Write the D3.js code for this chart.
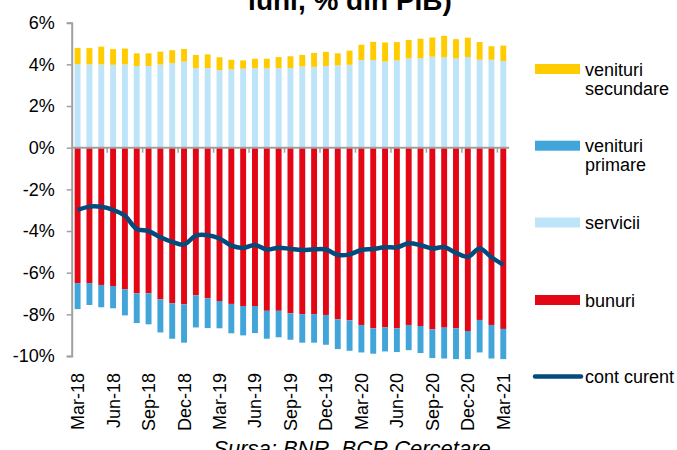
<!DOCTYPE html>
<html>
<head>
<meta charset="utf-8">
<script src="https://cdn.jsdelivr.net/npm/d3@7"></script>
<style>
  body { margin: 0; background: #fff; }
  svg { font-family: Arial, "Liberation Sans", sans-serif; }
</style>
</head>
<body>
<svg id="chart" width="677" height="450"></svg>
<script>
// categories (monthly, Mar-18 .. Mar-21)
var months = ["Mar-18","Apr-18","May-18","Jun-18","Jul-18","Aug-18","Sep-18","Oct-18","Nov-18","Dec-18",
  "Jan-19","Feb-19","Mar-19","Apr-19","May-19","Jun-19","Jul-19","Aug-19","Sep-19","Oct-19","Nov-19","Dec-19",
  "Jan-20","Feb-20","Mar-20","Apr-20","May-20","Jun-20","Jul-20","Aug-20","Sep-20","Oct-20","Nov-20","Dec-20",
  "Jan-21","Feb-21","Mar-21"];

var tickLabels = ["Mar-18","Jun-18","Sep-18","Dec-18","Mar-19","Jun-19","Sep-19","Dec-19",
  "Mar-20","Jun-20","Sep-20","Dec-20","Mar-21"];

var yTicks = [-10, -8, -6, -4, -2, 0, 2, 4, 6];

// series, % of GDP
var servicii = [4.01,4.00,4.00,3.98,4.00,3.92,3.92,3.99,4.06,4.13,3.82,3.82,3.72,3.76,3.79,3.82,3.81,3.82,3.82,
  3.90,3.88,3.92,3.95,3.98,4.21,4.21,4.14,4.19,4.29,4.29,4.37,4.34,4.29,4.35,4.22,4.22,4.16];
var venituriSecundare = [0.78,0.78,0.85,0.75,0.76,0.61,0.61,0.62,0.62,0.61,0.63,0.66,0.62,0.46,0.40,0.45,0.46,0.53,0.57,
  0.55,0.67,0.68,0.58,0.68,0.73,0.87,0.91,0.88,0.88,0.94,0.92,1.03,0.92,0.93,0.85,0.65,0.74];
var bunuri = [-6.50,-6.50,-6.59,-6.64,-6.80,-6.99,-6.99,-7.28,-7.47,-7.52,-7.09,-7.23,-7.36,-7.50,-7.60,-7.60,-7.83,-7.83,-7.95,
  -7.99,-7.99,-8.03,-8.24,-8.29,-8.51,-8.67,-8.63,-8.67,-8.51,-8.56,-8.72,-8.64,-8.67,-8.80,-8.27,-8.51,-8.70];
var venituriPrimare = [-1.25,-1.05,-1.07,-1.07,-1.25,-1.43,-1.49,-1.59,-1.70,-1.84,-1.54,-1.43,-1.31,-1.41,-1.41,-1.30,-1.34,-1.27,-1.27,
  -1.37,-1.37,-1.43,-1.43,-1.46,-1.32,-1.22,-1.15,-1.14,-1.21,-1.30,-1.38,-1.48,-1.48,-1.35,-1.56,-1.61,-1.45];
var contCurent = [-2.99,-2.83,-2.84,-2.99,-3.27,-3.90,-4.00,-4.30,-4.52,-4.65,-4.22,-4.20,-4.36,-4.70,-4.81,-4.67,-4.89,-4.80,-4.86,
  -4.91,-4.88,-4.89,-5.15,-5.12,-4.91,-4.86,-4.78,-4.78,-4.59,-4.68,-4.84,-4.77,-5.05,-5.24,-4.84,-5.26,-5.62];

var colorSecundare = "#ffcc00",
    colorPrimare = "#41a5d9",
    colorServicii = "#bde4f9",
    colorBunuri = "#e30615",
    colorCont = "#034b7d",
    colorAxis = "#a0a0a0";

let svg = d3.select("#chart"),
    plotLeft = 71.7,
    plotRight = 509.2;

//scales
let x = d3.scaleBand().domain(months).range([plotLeft, plotRight]).paddingInner(0.5).paddingOuter(0.25),
    y = d3.scaleLinear().domain([-10, 6]).range([356, 22.7]);

//build table for the stack
var table = months.map(function(m, i) {
  return { month: m, servicii: servicii[i], bunuri: bunuri[i], secundare: venituriSecundare[i], primare: venituriPrimare[i] };
});
var keys = ["servicii", "bunuri", "secundare", "primare"];
var colors = { servicii: colorServicii, bunuri: colorBunuri, secundare: colorSecundare, primare: colorPrimare };

var series = d3.stack().keys(keys).offset(d3.stackOffsetDiverging)(table);

//bars
svg.append("g").selectAll("g")
  .data(series)
  .enter().append("g")
    .attr("fill", function(s) { return colors[s.key]; })
  .selectAll("rect")
  .data(function(s) { return s; })
  .enter().append("rect")
    .attr("x", function(d) { return x(d.data.month); })
    .attr("width", x.bandwidth())
    .attr("y", function(d) { return y(Math.max(d[0], d[1])); })
    .attr("height", function(d) { return Math.abs(y(d[0]) - y(d[1])); });

//zero line with category ticks every 3 months
let zero = svg.append("g");
zero.append("line")
  .attr("x1", plotLeft).attr("x2", plotRight)
  .attr("y1", y(0)).attr("y2", y(0))
  .attr("stroke", colorAxis).attr("stroke-width", 2);
zero.selectAll(".cat-tick")
  .data(d3.range(3, months.length, 3))
  .enter().append("line")
    .attr("class", "cat-tick")
    .attr("x1", function(k) { return x.range()[0] + k * x.step(); })
    .attr("x2", function(k) { return x.range()[0] + k * x.step(); })
    .attr("y1", y(0)).attr("y2", y(0) + 5)
    .attr("stroke", colorAxis).attr("stroke-width", 1.5);

//current account line
var line = d3.line()
  .x(function(d, i) { return x(months[i]) + x.bandwidth() / 2; })
  .y(function(d) { return y(d); })
  .curve(d3.curveCatmullRom.alpha(0.5));

svg.append("path")
  .datum(contCurent)
  .attr("fill", "none")
  .attr("stroke", colorCont)
  .attr("stroke-width", 4.5)
  .attr("stroke-linejoin", "round")
  .attr("d", line);

//y axis
let yAxis = svg.append("g")
  .attr("transform", "translate(" + plotLeft + ",0)")
  .call(d3.axisLeft(y).tickValues(yTicks).tickSize(5).tickPadding(12)
    .tickFormat(function(d) { return d + "%"; }));
yAxis.select(".domain").attr("stroke", colorAxis).attr("stroke-width", 2);
yAxis.selectAll(".tick line").attr("stroke", colorAxis).attr("stroke-width", 1.5);
yAxis.selectAll(".tick text")
  .style("font-size", "18px")
  .attr("fill", "#000");

//x axis labels, rotated
let xAxis = svg.append("g")
  .attr("transform", "translate(0,373)")
  .call(d3.axisBottom(x).tickValues(tickLabels).tickSize(0));
xAxis.select(".domain").remove();
xAxis.selectAll(".tick text")
  .attr("x", 0)
  .attr("y", 0)
  .attr("dy", "0.36em")
  .attr("transform", "rotate(-90)")
  .style("text-anchor", "end")
  .style("font-size", "18px")
  .attr("fill", "#000");

//legend
var legendItems = [
  { lines: ["venituri", "secundare"], color: colorSecundare, cy: 69, type: "rect" },
  { lines: ["venituri", "primare"], color: colorPrimare, cy: 145.7, type: "rect" },
  { lines: ["servicii"], color: colorServicii, cy: 222.5, type: "rect" },
  { lines: ["bunuri"], color: colorBunuri, cy: 300, type: "rect" },
  { lines: ["cont curent"], color: colorCont, cy: 376.5, type: "line" }
];

let legend = svg.append("g").attr("class", "legend");
legendItems.forEach(function(item) {
  if (item.type === "rect") {
    legend.append("rect")
      .attr("x", 535).attr("y", item.cy - 5)
      .attr("width", 45).attr("height", 10)
      .attr("fill", item.color);
  } else {
    legend.append("line")
      .attr("x1", 535).attr("x2", 581)
      .attr("y1", item.cy).attr("y2", item.cy)
      .attr("stroke", item.color).attr("stroke-width", 4.5)
      .attr("stroke-linecap", "round");
  }
  item.lines.forEach(function(t, j) {
    legend.append("text")
      .attr("x", 585)
      .attr("y", item.cy + 6.5 + j * 19)
      .style("font-size", "18px")
      .attr("fill", "#000")
      .text(t);
  });
});

//title (top part cut off) and source
svg.append("text")
  .attr("x", 350).attr("y", 10)
  .attr("text-anchor", "middle")
  .style("font-size", "28px")
  .style("font-weight", "bold")
  .text("luni, % din PIB)");

svg.append("text")
  .attr("x", 352).attr("y", 456)
  .attr("text-anchor", "middle")
  .style("font-size", "22px")
  .style("font-style", "italic")
  .text("Sursa: BNR, BCR Cercetare");
</script>
</body>
</html>
